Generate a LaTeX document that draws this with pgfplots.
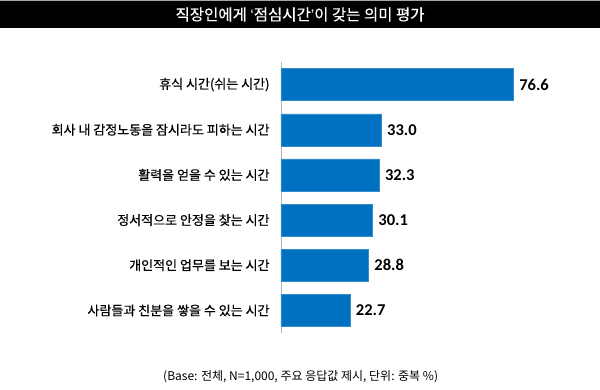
\documentclass[border=0pt]{standalone}
\usepackage{fontspec}
\usepackage{pgfplots}
\pgfplotsset{compat=1.18}
\newfontfamily\kr{Noto Sans CJK KR}
\newfontfamily\krb[FakeBold=0.5]{Noto Sans CJK KR}
\newfontfamily\krt[FakeBold=0.3]{Noto Sans CJK KR}
\newfontfamily\num{Carlito}
\newfontfamily\lat{Liberation Sans}
\definecolor{barblue}{HTML}{0070C0}
\begin{document}
\begin{tikzpicture}
\path[use as bounding box, fill=white] (0,0) rectangle (600pt,-389pt);
\fill[black] (0,-1pt) rectangle (600pt,-28pt);
\draw[gray!70, line width=0.8pt] (0,-0.5pt) -- (600pt,-0.5pt);
\node[text=white, inner sep=0pt] at (300pt,-14.5pt) {\krt\fontsize{15.5}{17}\selectfont 직장인에게 {\lat‘}점심시간{\lat’}이 갖는 의미 평가};
\begin{axis}[
  at={(281pt,-62pt)}, anchor=north west,
  scale only axis, width=303pt, height=271pt,
  xmin=0, xmax=100, ymin=-0.5, ymax=5.5,
  y dir=reverse,
  xbar, bar width=32pt,
  axis x line=none,
  axis y line*=left,
  y axis line style={draw=gray!60, line width=0.8pt, -},
  ytick={0,1,2,3,4,5},
  yticklabels={휴식 시간(쉬는 시간), 회사 내 감정노동을 잠시라도 피하는 시간, 활력을 얻을 수 있는 시간, 정서적으로 안정을 찾는 시간, 개인적인 업무를 보는 시간, 사람들과 친분을 쌓을 수 있는 시간},
  yticklabel style={font=\krb\fontsize{13}{15}\selectfont, anchor=east, inner sep=0pt, xshift=-7pt},
  ytick style={draw=none},
  nodes near coords,
  nodes near coords style={font=\num\bfseries\fontsize{16.5}{18}\selectfont, anchor=west, inner sep=0pt, xshift=6pt, text=black, /pgf/number format/.cd, fixed, fixed zerofill, precision=1, assume math mode=true},
  point meta=x,
  clip=false,
]
\addplot[fill=barblue, draw=barblue!80!white] coordinates {(76.6,0) (33.0,1) (32.3,2) (30.1,3) (28.8,4) (22.7,5)};
\end{axis}
\node[anchor=west, inner sep=0pt] at (163pt,-377pt) {\kr\fontsize{12}{14}\selectfont (Base: 전체, N=1,000, 주요 응답값 제시, 단위: 중복 \%)};
\end{tikzpicture}
\end{document}
